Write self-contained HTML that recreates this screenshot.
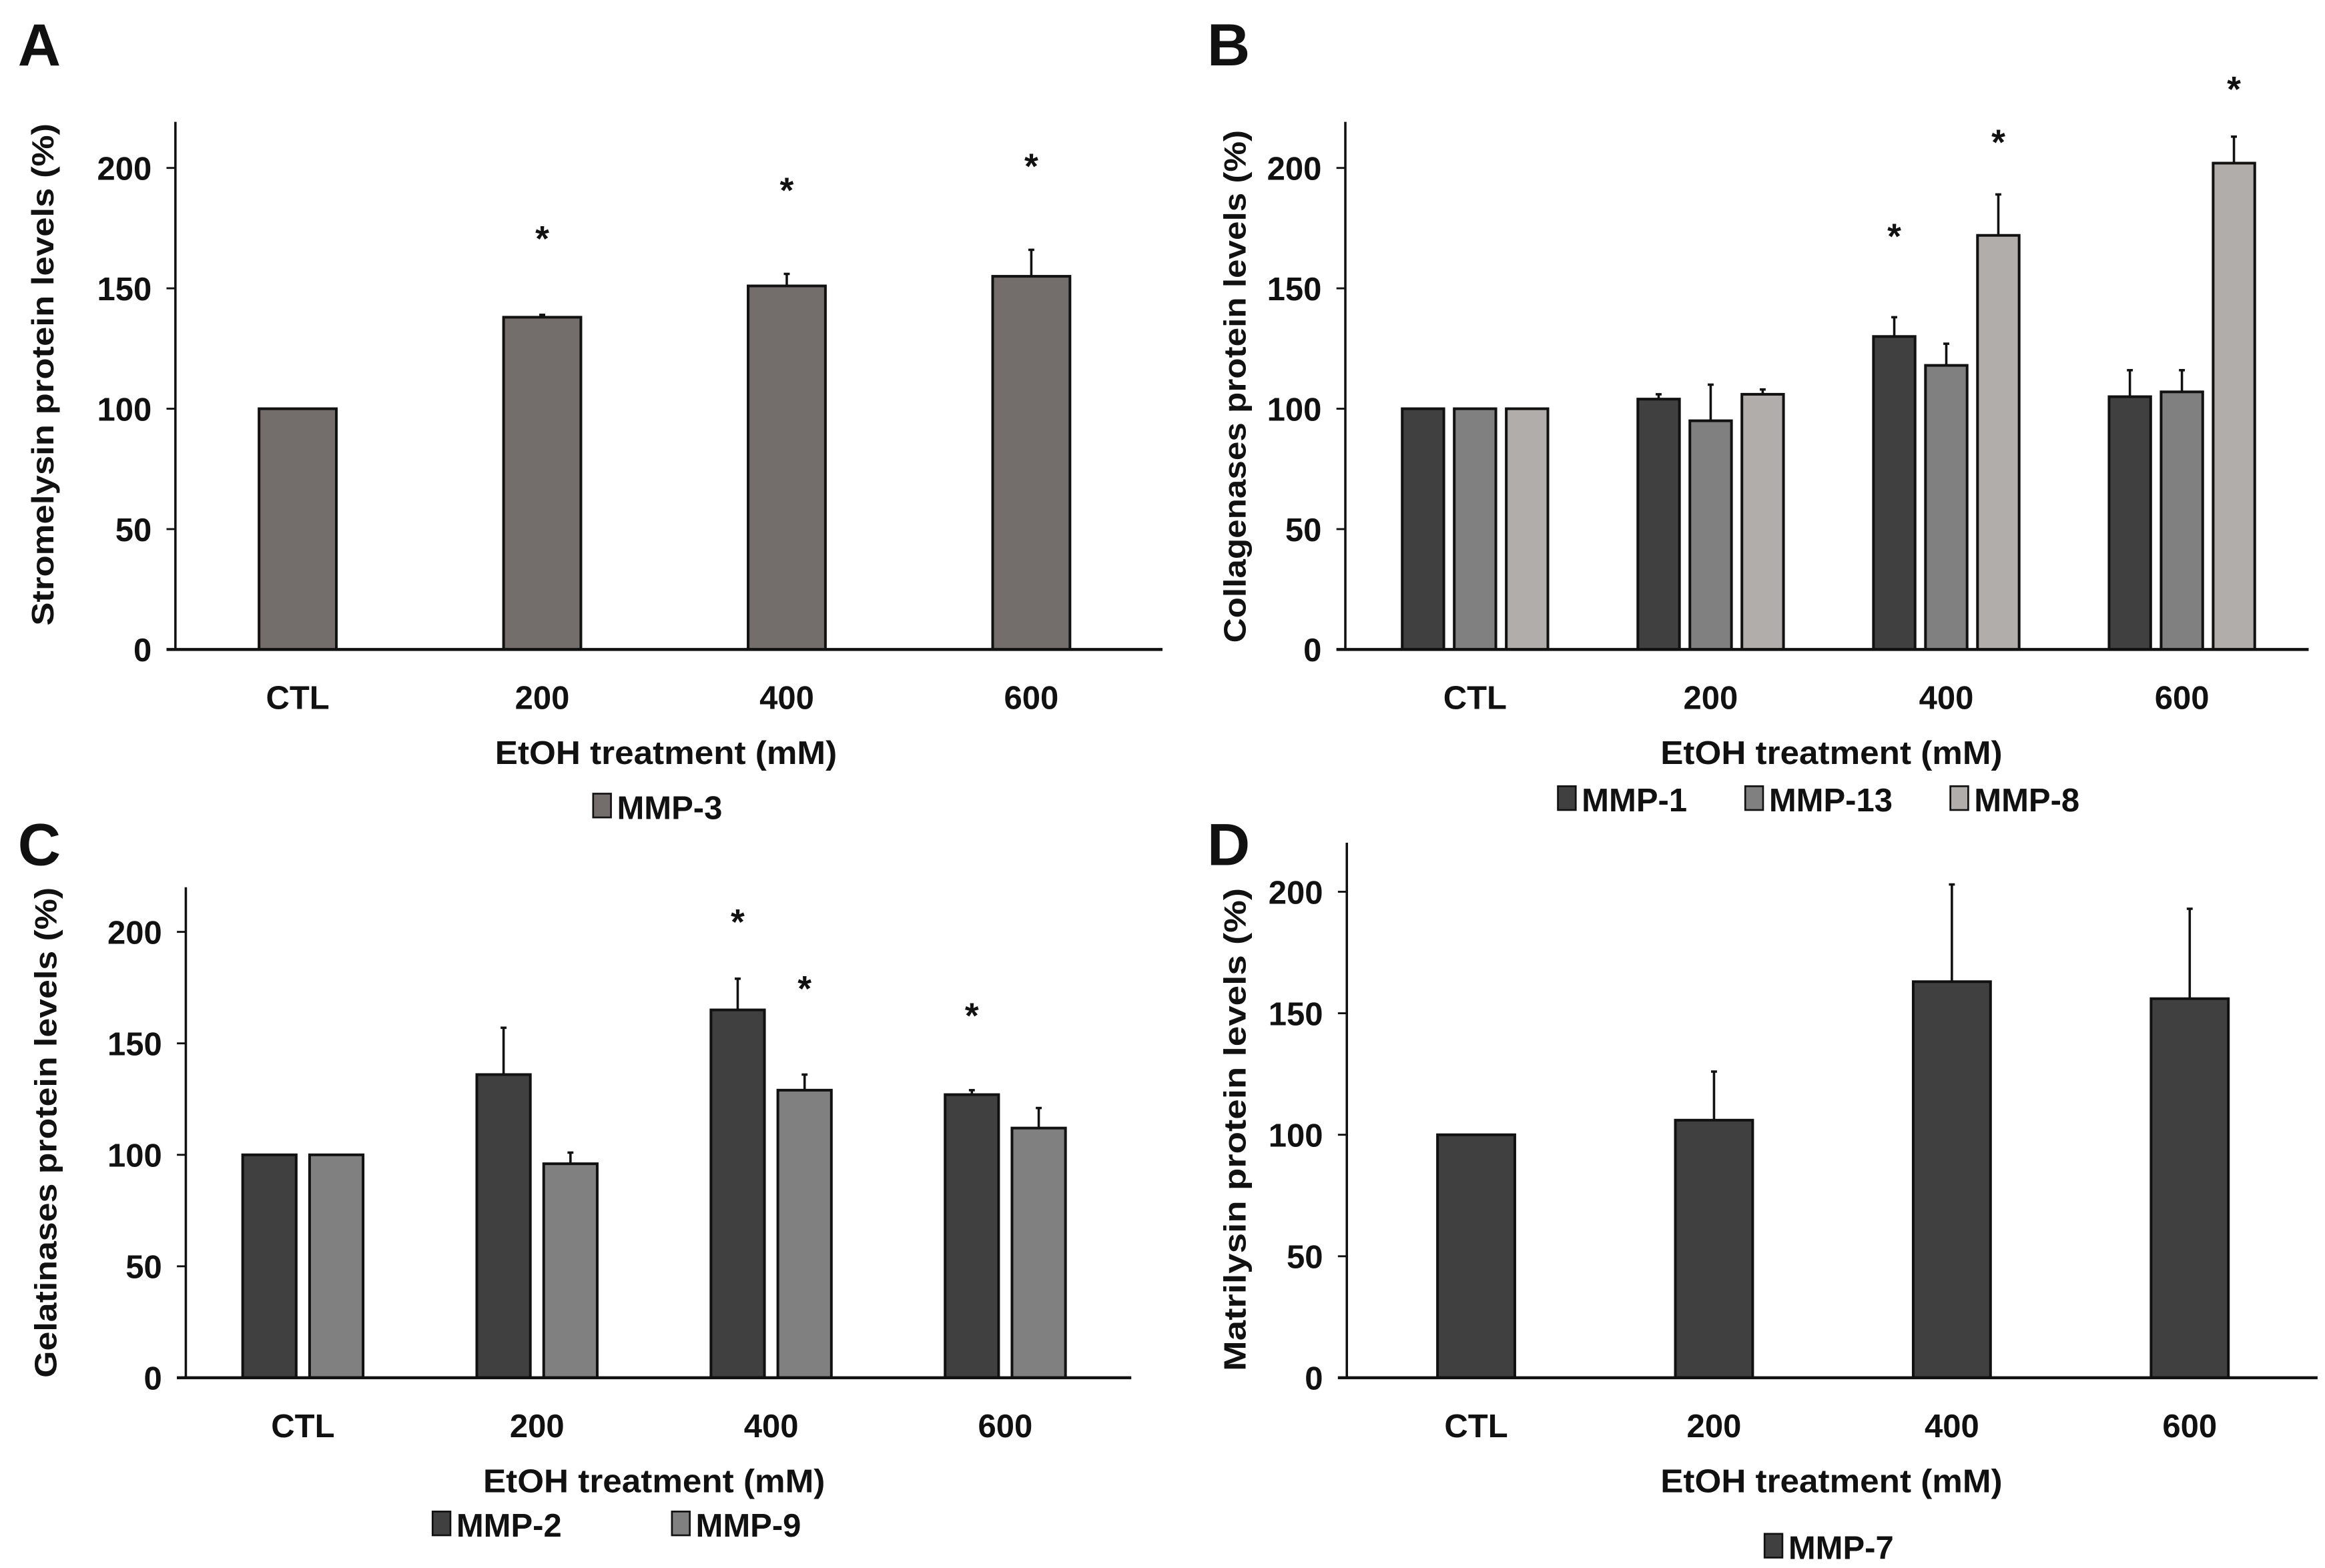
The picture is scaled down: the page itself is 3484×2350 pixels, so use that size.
<!DOCTYPE html>
<html><head><meta charset="utf-8"><style>
html,body{margin:0;padding:0;background:#fff;}
svg{display:block;}
text{font-family:"Liberation Sans Narrow","Liberation Sans",sans-serif;font-weight:bold;fill:#111;}
</style></head><body>
<svg id="fig" width="3484" height="2350" viewBox="0 0 1564 1055" preserveAspectRatio="none" xmlns="http://www.w3.org/2000/svg"></svg>
<script>
const categories = ["CTL","200","400","600"];
const yTicks = [0,50,100,150,200];
// Panel A
const aMMP3 = [100,138,151,155];
const aMMP3Err = [0,1,5,11];
const aStars = [[1,0,173],[2,0,193],[3,0,203]];
// Panel B
const bMMP1 = [100,104,130,105];
const bMMP1Err = [0,2,8,11];
const bMMP13 = [100,95,118,107];
const bMMP13Err = [0,15,9,9];
const bMMP8 = [100,106,172,202];
const bMMP8Err = [0,2,17,11];
const bStars = [[2,0,174],[2,2,213],[3,2,235]];
// Panel C
const cMMP2 = [100,136,165,127];
const cMMP2Err = [0,21,14,2];
const cMMP9 = [100,96,129,112];
const cMMP9Err = [0,5,7,9];
const cStars = [[2,0,207],[2,1,177],[3,0,165]];
// Panel D
const dMMP7 = [100,106,163,156];
const dMMP7Err = [0,20,40,37];
const dStars = [];

const NS = "http://www.w3.org/2000/svg";
const svg = document.getElementById('fig');
function el(tag, attrs, parent, txt){
  const e = document.createElementNS(NS, tag);
  for (const k in attrs) e.setAttribute(k, attrs[k]);
  if (txt !== undefined) e.textContent = txt;
  (parent||svg).appendChild(e);
  return e;
}

function panel(p){
  const g = el('g', {});
  
  
  const yScale = v => p.y0 - (p.y0 - p.y200) * v / 200;
  const catW = (p.x1 - p.x0) / categories.length;
  const xCenter = i => p.x0 + catW * (i + 0.5);
  const barX = (i, s) => xCenter(i) - p.series.length * p.step / 2 + s * p.step + (p.step - p.bw) / 2;
  const L = el('text', {x:p.lx, y:p.ly, 'font-size':40, 'font-family':'Liberation Sans'}, g, p.letter);
  
  
  yTicks.forEach(t => {
    const tl = el('text', {x:p.axisX-16, y:yScale(t)+8, 'font-size':22, 'text-anchor':'end'}, g, t);
    
    
    el('line', {x1:p.axisX-6, x2:p.axisX, y1:yScale(t), y2:yScale(t), stroke:'#111', 'stroke-width':1.3}, g);
  });
  p.series.forEach((s, si) => {
    s.vals.forEach((v, i) => {
      const x = barX(i, si);
      const e = s.err[i];
      if (e > 0) {
        el('line', {x1:x+p.bw/2, x2:x+p.bw/2, y1:yScale(v), y2:yScale(v+e), stroke:'#111', 'stroke-width':1.6}, g);
        el('line', {x1:x+p.bw/2-2, x2:x+p.bw/2+2, y1:yScale(v+e), y2:yScale(v+e), stroke:'#111', 'stroke-width':1.6}, g);
      }
      const r = el('rect', {x:x, y:yScale(v), width:p.bw, height:yScale(0)-yScale(v), fill:s.color, stroke:'#111', 'stroke-width':1.8}, g);
      
      
    });
  });
  p.stars.forEach(st => {
    const t = el('text', {x:barX(st[0], st[1]) + p.bw/2, y:yScale(st[2]) + 12, 'font-size':24, 'text-anchor':'middle'}, g, '*');
    
    
  });
  el('line', {x1:p.axisX, x2:p.axisX, y1:p.top, y2:yScale(0), stroke:'#111', 'stroke-width':1.6}, g);
  el('line', {x1:p.axisX-6, x2:p.x1+6, y1:yScale(0), y2:yScale(0), stroke:'#111', 'stroke-width':2}, g);
  categories.forEach((c, i) => {
    const t = el('text', {x:xCenter(i), y:yScale(0)+40, 'font-size':22, 'text-anchor':'middle'}, g, c);
    
    
  });
  const xt = el('text', {x:p.xtx, y:yScale(0)+77, 'font-size':22, 'text-anchor':'middle', textLength:230, lengthAdjust:'spacingAndGlyphs'}, g, 'EtOH treatment (mM)');
  
  
  const yt = el('text', {x:0, y:0, 'font-size':21, 'text-anchor':'middle', textLength:p.ylen, lengthAdjust:'spacingAndGlyphs', transform:`translate(${p.ytx},${p.yty}) rotate(-90)`}, g, p.ytitle);
  
  
  p.series.forEach((s, si) => {
    const lx = p.legX[si];
    const lg = el('g', {}, g);
    
    
    el('rect', {x:lx, y:p.legY-8, width:12, height:16, fill:s.color, stroke:'#111', 'stroke-width':1.2}, lg);
    el('text', {x:lx+16, y:p.legY+9, 'font-size':22}, lg, s.label);
  });
}

panel({name:'panel-a', letter:'A', lx:12, ly:44, axisX:118, x0:118, x1:776, top:82, y0:437, y200:113,
  bw:52, step:52, series:[{label:'MMP-3', vals:aMMP3, err:aMMP3Err, color:'#736e6c'}], stars:aStars,
  xtx:448, ytx:36, yty:252, ylen:338, ytitle:'Stromelysin protein levels (%)', legX:[399], legY:542});
panel({name:'panel-b', letter:'B', lx:812, ly:44, axisX:905, x0:913, x1:1547, top:82, y0:437, y200:113,
  bw:28, step:35, series:[{label:'MMP-1', vals:bMMP1, err:bMMP1Err, color:'#404040'},
    {label:'MMP-13', vals:bMMP13, err:bMMP13Err, color:'#808080'},
    {label:'MMP-8', vals:bMMP8, err:bMMP8Err, color:'#b0adab'}], stars:bStars,
  xtx:1232, ytx:838, yty:260, ylen:345, ytitle:'Collagenases protein levels  (%)', legX:[1048, 1174, 1312], legY:537});
panel({name:'panel-c', letter:'C', lx:12, ly:582, axisX:125, x0:125, x1:755, top:597, y0:927, y200:627,
  bw:36, step:45, series:[{label:'MMP-2', vals:cMMP2, err:cMMP2Err, color:'#404040'},
    {label:'MMP-9', vals:cMMP9, err:cMMP9Err, color:'#808080'}], stars:cStars,
  xtx:440, ytx:38, yty:762, ylen:330, ytitle:'Gelatinases protein levels  (%)', legX:[291, 452], legY:1025});
panel({name:'panel-d', letter:'D', lx:812, ly:582, axisX:906, x0:913, x1:1553, top:567, y0:927, y200:600,
  bw:52, step:52, series:[{label:'MMP-7', vals:dMMP7, err:dMMP7Err, color:'#404040'}], stars:dStars,
  xtx:1232, ytx:838, yty:760, ylen:325, ytitle:'Matrilysin protein levels  (%)', legX:[1187], legY:1040});
</script>
</body></html>
